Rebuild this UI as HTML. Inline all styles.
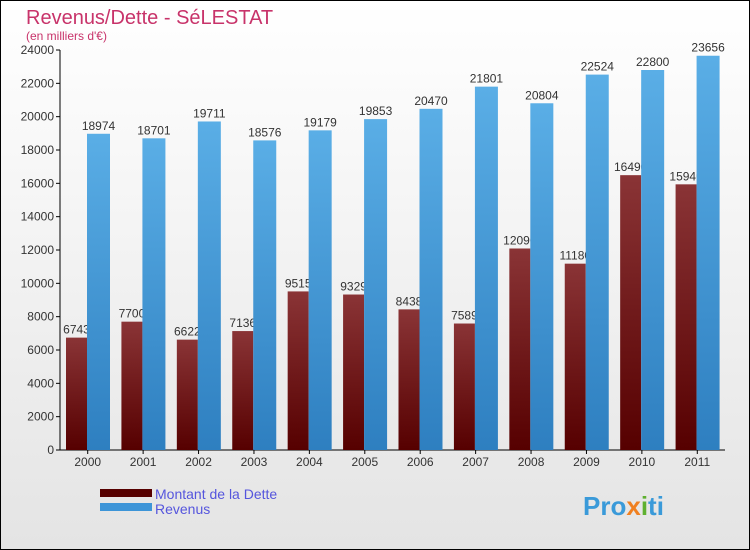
<!DOCTYPE html>
<html><head><meta charset="utf-8"><style>
body{margin:0;background:#fff}
svg{display:block;font-family:"Liberation Sans",sans-serif}
</style></head><body>
<svg width="750" height="550" xmlns="http://www.w3.org/2000/svg">
<defs>
<linearGradient id="bg" x1="0" y1="0" x2="0" y2="1"><stop offset="0" stop-color="#ffffff"/><stop offset="1" stop-color="#e4e4e4"/></linearGradient>
<linearGradient id="gd" x1="0" y1="0" x2="0" y2="1"><stop offset="0" stop-color="#8a3436"/><stop offset="1" stop-color="#560000"/></linearGradient>
<linearGradient id="gr" x1="0" y1="0" x2="0" y2="1"><stop offset="0" stop-color="#5aaee6"/><stop offset="1" stop-color="#2e7fc0"/></linearGradient>
</defs>
<rect x="0.5" y="0.5" width="749" height="549" fill="url(#bg)" stroke="#000"/>
<text x="26" y="24" font-size="20" fill="#c8336a">Revenus/Dette - SéLESTAT</text>
<text x="26" y="40" font-size="12" fill="#c8336a">(en milliers d'€)</text>
<g id="axes"></g>
<g id="bars"></g>
<g>
<rect x="100" y="489" width="52" height="8" fill="#560000"/>
<text x="155" y="499" font-size="14" fill="#5555dd">Montant de la Dette</text>
<rect x="100" y="503" width="52" height="8" fill="#3d95d8"/>
<text x="155" y="514" font-size="14" fill="#5555dd">Revenus</text>
</g>
<text x="583" y="515" font-size="26" font-weight="bold" fill="#3a9ad9">Pro<tspan fill="#f08020">x</tspan><tspan fill="#5fb030">i</tspan>ti</text>
</svg>
<script>
const years=["2000","2001","2002","2003","2004","2005","2006","2007","2008","2009","2010","2011"];
const dette=[6743,7700,6622,7136,9515,9329,8438,7589,12090,11180,16490,15940];
const revenus=[18974,18701,19711,18576,19179,19853,20470,21801,20804,22524,22800,23656];
const yTicks=[0,2000,4000,6000,8000,10000,12000,14000,16000,18000,20000,22000,24000];
const NS="http://www.w3.org/2000/svg";
const x0=60,x1=725,yb=450,yt=50,ymax=24000;
const gw=(x1-x0)/years.length;
const y=v=>yb-(v/ymax)*(yb-yt);
function mk(t,a,p){const e=document.createElementNS(NS,t);for(const k in a)e.setAttribute(k,a[k]);p.appendChild(e);return e;}
const ax=document.getElementById('axes'),bg=document.getElementById('bars');
yTicks.forEach(v=>{
 const l=mk('line',{x1:x0-4,x2:x0,y1:y(v),y2:y(v),stroke:'#000'},ax);
 
 
 const t=mk('text',{x:x0-6,y:y(v)+4,'text-anchor':'end','font-size':'12',fill:'#333'},ax);
 t.textContent=v;
 
 
});
const ya=mk('line',{x1:x0,x2:x0,y1:yt,y2:yb,stroke:'#000'},ax);


const xa=mk('line',{x1:x0,x2:x1,y1:yb,y2:yb,stroke:'#000'},ax);


years.forEach((yr,i)=>{
 const s=x0+i*gw;
 const tk=mk('line',{x1:s+gw/2,x2:s+gw/2,y1:yb,y2:yb+4,stroke:'#000'},ax);
 
 
 const t=mk('text',{x:s+gw/2,y:yb+16,'text-anchor':'middle','font-size':'12',fill:'#333'},ax);
 t.textContent=yr;
 
 
});
years.forEach((yr,i)=>{
 const s=x0+i*gw;
 const r=mk('rect',{x:s+6,y:y(dette[i]),width:21,height:yb-y(dette[i]),fill:'url(#gd)'},bg);
 
 
 const t=mk('text',{x:s+16.5,y:y(dette[i])-4,'text-anchor':'middle','font-size':'12',fill:'#333'},bg);
 t.textContent=dette[i];
 
 
});
years.forEach((yr,i)=>{
 const s=x0+i*gw;
 const r=mk('rect',{x:s+27,y:y(revenus[i]),width:23,height:yb-y(revenus[i]),fill:'url(#gr)'},bg);
 
 
 const t=mk('text',{x:s+38.5,y:y(revenus[i])-4,'text-anchor':'middle','font-size':'12',fill:'#333'},bg);
 t.textContent=revenus[i];
 
 
});
</script>
</body></html>
